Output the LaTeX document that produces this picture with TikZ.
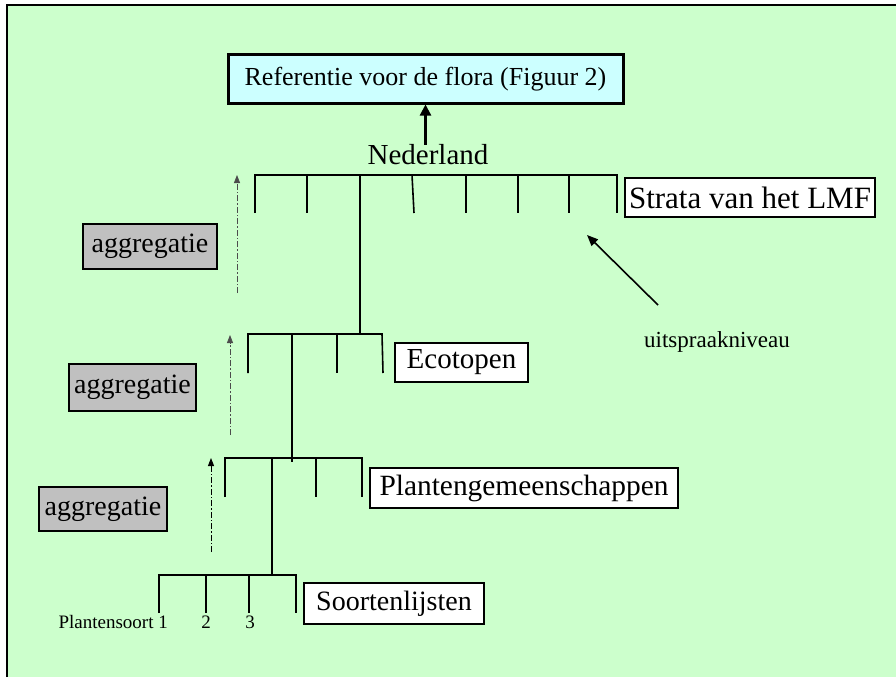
\documentclass[tikz,border=0pt]{standalone}
\usepackage{fontspec}
\setmainfont{Liberation Serif}
\usetikzlibrary{arrows.meta}
\definecolor{bggreen}{HTML}{CCFFCC}
\definecolor{refcyan}{HTML}{CCFFFF}
\definecolor{agggray}{HTML}{C0C0C0}
\tikzset{
  labelbox/.style={draw=black, fill=white, line width=1.2pt, inner sep=0pt, anchor=center},
  aggbox/.style={draw=black, fill=agggray, line width=1.5pt, inner sep=0pt, anchor=center},
  comb/.style={line width=1.6pt, line cap=butt},
  aggarrow/.style={gray!60!black, line width=0.8pt, dash pattern=on 6pt off 2pt on 1.5pt off 2pt, -{Triangle[width=6pt,length=8pt]}},
  bigarrow/.style={line width=1.6pt, -{Triangle[width=9pt,length=11pt]}}
}
\begin{document}
\begin{tikzpicture}[x=1pt,y=-1pt]
\useasboundingbox (0,0) rectangle (896,677);
\fill[bggreen] (7,5) rectangle (896,677);
\draw[line width=2pt] (7,677) -- (7,5) -- (896,5);

% boxes
\node[labelbox, fill=refcyan, line width=3pt, minimum width=395pt, minimum height=48pt] (ref) at (425.5,79)
  {\fontsize{26}{30}\selectfont Referentie voor de flora (Figuur 2)};
\node[inner sep=0pt] (ned) at (428,155) {\fontsize{29}{32}\selectfont Nederland};
\node[labelbox, minimum width=250pt, minimum height=39pt] (strata) at (750,197.5)
  {\fontsize{31}{34}\selectfont Strata van het LMF};
\node[labelbox, minimum width=133pt, minimum height=39pt] (eco) at (461.5,362.5)
  {\fontsize{29}{33}\selectfont Ecotopen};
\node[labelbox, minimum width=308pt, minimum height=40pt] (plant) at (524,488)
  {\fontsize{29.4}{33}\selectfont Plantengemeenschappen};
\node[labelbox, minimum width=180pt, minimum height=41pt] (soort) at (394,603.5)
  {\fontsize{28}{32}\selectfont Soortenlijsten};
\node[inner sep=0pt] (uits) at (717,342) {\fontsize{23}{26}\selectfont uitspraakniveau};
\coordinate (uitsfrom) at (658,305);
\coordinate (uitsto) at (587,235);

\node[aggbox, minimum width=134pt, minimum height=45pt] (agg1) at (150,246.5)
  {\fontsize{28}{32}\selectfont aggregatie};
\node[aggbox, minimum width=127pt, minimum height=47pt] (agg2) at (132.5,387.5)
  {\fontsize{28}{32}\selectfont aggregatie};
\node[aggbox, minimum width=128pt, minimum height=44pt] (agg3) at (103,509)
  {\fontsize{28}{32}\selectfont aggregatie};

\node[inner sep=0pt, anchor=east] (ps1) at (168,622) {\fontsize{19}{21}\selectfont Plantensoort 1};
\node[inner sep=0pt] (ps2) at (206,622) {\fontsize{19}{21}\selectfont 2};
\node[inner sep=0pt] (ps3) at (250,622) {\fontsize{19}{21}\selectfont 3};

% arrow to reference
\draw[line width=2.2pt, -{Triangle[width=11pt,length=11pt]}] (ref.south |- ned.north) -- (ref.south);
% uitspraakniveau arrow
\draw[bigarrow] (uitsfrom) -- (uitsto);

% top comb (Strata)
\draw[comb] (255,213) -- (255,175) -- (617,175) -- (617,213);
\foreach \x in {307,466,518,569} \draw[comb] (\x,175) -- (\x,213);
\draw[comb] (412,175) -- (414,213);
\draw[comb] (360,175) -- (360,334);

% Ecotopen comb
\draw[comb] (248,373) -- (248,334) -- (382,334) -- (383,373);
\draw[comb] (337,334) -- (337,373);
\draw[comb] (292,334) -- (292,462);

% Planten comb
\draw[comb] (225,497) -- (225,458) -- (362,458) -- (362,497);
\draw[comb] (316,458) -- (316,497);
\draw[comb] (272,458) -- (272,575);

% Soorten comb
\draw[comb] (159,613) -- (159,575) -- (296,575) -- (296,613);
\draw[comb] (206,575) -- (206,613);
\draw[comb] (249,575) -- (249,613);

% aggregation arrows
\draw[aggarrow] (237,293) -- (237,175);
\draw[aggarrow] (230,435) -- (230,335);
\draw[aggarrow, black, line width=1pt] (211,552) -- (211,458);
\end{tikzpicture}
\end{document}
